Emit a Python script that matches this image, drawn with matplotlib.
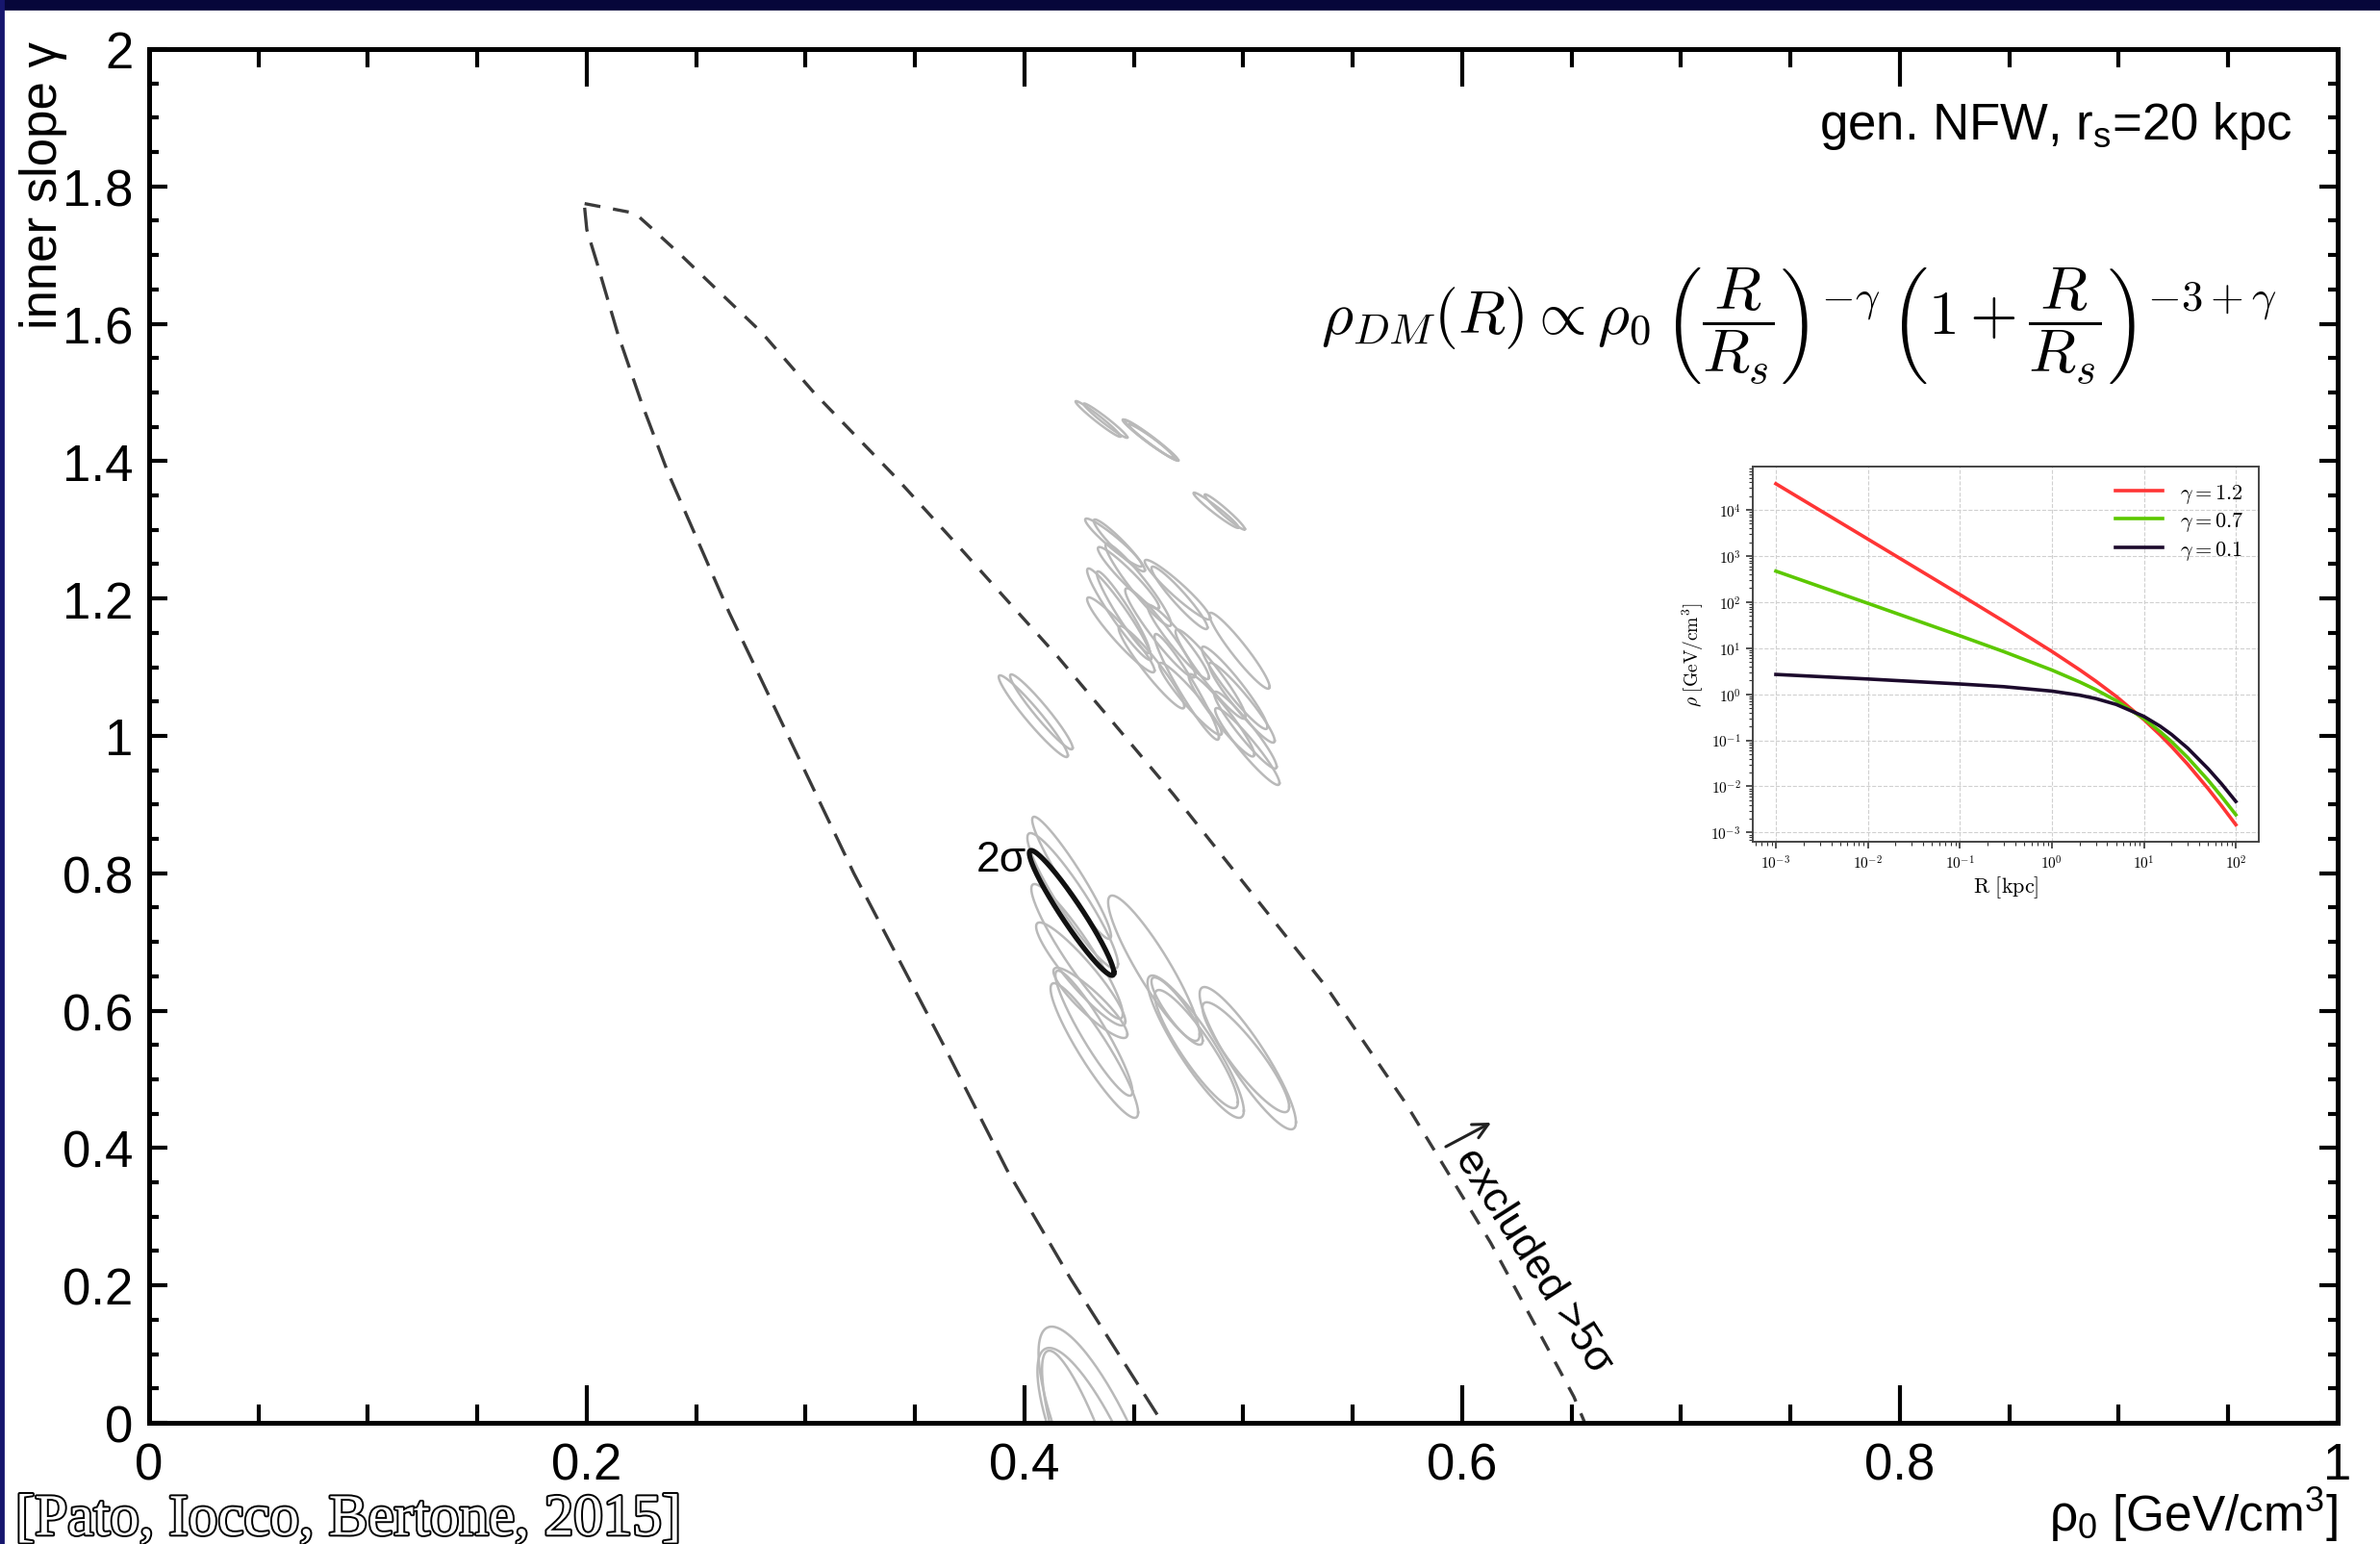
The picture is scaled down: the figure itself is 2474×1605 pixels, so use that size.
import numpy as np
import matplotlib
matplotlib.use('Agg')
import matplotlib.pyplot as plt
import matplotlib.patheffects as pe
from matplotlib.patches import Rectangle
from matplotlib.ticker import MultipleLocator, FixedLocator, FuncFormatter, LogLocator, NullFormatter

plt.rcParams['font.family'] = ['Liberation Sans', 'DejaVu Sans']
plt.rcParams['mathtext.fontset'] = 'cm'
plt.rcParams['mathtext.rm'] = 'Liberation Sans'
plt.rcParams['mathtext.it'] = 'Liberation Sans:italic'
plt.rcParams['mathtext.bf'] = 'Liberation Sans:bold'

# ---- data -------------------------------------------------------------
x_ticks = [0, 0.2, 0.4, 0.6, 0.8, 1.0]
x_labels = ['0', '0.2', '0.4', '0.6', '0.8', '1']
y_ticks = [0, 0.2, 0.4, 0.6, 0.8, 1.0, 1.2, 1.4, 1.6, 1.8, 2.0]
y_labels = ['0', '0.2', '0.4', '0.6', '0.8', '1', '1.2', '1.4', '1.6', '1.8', '2']

# >5 sigma exclusion boundary
edge_right_x = [0.199, 0.222, 0.229, 0.244, 0.260, 0.280, 0.304, 0.341, 0.371, 0.415, 0.468, 0.538, 0.574, 0.613, 0.651, 0.656]
edge_right_y = [1.775, 1.761, 1.741, 1.697, 1.648, 1.587, 1.499, 1.377, 1.272, 1.116, 0.915, 0.634, 0.466, 0.262, 0.038, 0.0]
edge_left_x = [0.199, 0.200, 0.205, 0.214, 0.225, 0.237, 0.265, 0.292, 0.322, 0.363, 0.392, 0.421, 0.463]
edge_left_y = [1.769, 1.737, 1.685, 1.587, 1.485, 1.384, 1.180, 1.000, 0.800, 0.550, 0.368, 0.210, 0.000]

# 2 sigma contours for the baryonic models: centre, half extent in x/y, correlation
ell_cx = [0.4336, 0.4370, 0.4565, 0.4589, 0.4577, 0.4875, 0.4915, 0.4040, 0.4077,
          0.4407, 0.4433, 0.4699, 0.4708, 0.4433, 0.4451, 0.4440, 0.4703, 0.4741,
          0.4982, 0.4993, 0.5018, 0.4758, 0.5009,
          0.4520, 0.4620, 0.4850, 0.4900, 0.4580, 0.4475, 0.4960,
          0.4215, 0.4220, 0.4240, 0.4301, 0.4319, 0.4317, 0.4257,
          0.4591, 0.4782, 0.4785, 0.5020, 0.5011, 0.4697,
          0.4364, 0.4329, 0.4300]
ell_cy = [1.4615, 1.4590, 1.4328, 1.4272, 1.4310, 1.3285, 1.3260, 1.0287, 1.0350,
          1.2815, 1.2773, 1.2129, 1.2010, 1.1772, 1.1800, 1.1471, 1.1366, 1.0714,
          1.1240, 1.0483, 0.9846, 1.0539, 1.0084,
          1.2200, 1.1500, 1.0900, 1.0300, 1.1000, 1.2300, 1.0700,
          0.7934, 0.7598, 0.6863, 0.6113, 0.5420, 0.5672, 0.6534,
          0.6618, 0.5476, 0.5441, 0.5308, 0.5322, 0.5994,
          -0.05, -0.06, -0.08]
ell_hx = [0.0103, 0.0100, 0.0117, 0.0114, 0.0120, 0.0103, 0.0092, 0.0158, 0.0143,
          0.0130, 0.0117, 0.0150, 0.0128, 0.0147, 0.0121, 0.0154, 0.0140, 0.0147,
          0.0138, 0.0150, 0.0147, 0.0143, 0.0143,
          0.0150, 0.0160, 0.0160, 0.0150, 0.0150, 0.0140, 0.0150,
          0.0180, 0.0207, 0.0209, 0.0169, 0.0200, 0.0176, 0.0204,
          0.0209, 0.0220, 0.0190, 0.0220, 0.0198, 0.0117,
          0.030, 0.027, 0.022]
ell_hy = [0.0260, 0.0250, 0.0280, 0.0266, 0.0290, 0.0257, 0.0257, 0.0595, 0.0546,
          0.0350, 0.0378, 0.0434, 0.0455, 0.0666, 0.0596, 0.0546, 0.0540, 0.0770,
          0.0553, 0.0581, 0.0560, 0.0525, 0.0560,
          0.0600, 0.0650, 0.0650, 0.0600, 0.0600, 0.0450, 0.0600,
          0.0889, 0.0987, 0.0980, 0.0511, 0.0980, 0.0910, 0.0750,
          0.1058, 0.1036, 0.0860, 0.1036, 0.0800, 0.0490,
          0.190, 0.169, 0.185]
ell_rho = [-0.975, -0.975, -0.975, -0.975, -0.975, -0.97, -0.97, -0.96, -0.96,
           -0.95, -0.95, -0.95, -0.95, -0.955, -0.955, -0.95, -0.95, -0.955,
           -0.95, -0.95, -0.95, -0.95, -0.95,
           -0.95, -0.95, -0.95, -0.95, -0.95, -0.95, -0.95,
           -0.95, -0.93, -0.93, -0.90, -0.92, -0.93, -0.92,
           -0.91, -0.90, -0.90, -0.90, -0.90, -0.88,
           -0.80, -0.80, -0.85]

# highlighted model
best_cx, best_cy, best_hx, best_hy, best_rho = 0.4215, 0.7423, 0.0193, 0.0910, -0.955

# inset: generalised NFW profiles
r_kpc = [0.001, 0.01, 0.1, 0.3, 1, 2, 3, 5, 10, 15, 20, 30, 50, 70, 100]
rho_g12 = [3.7e4, 2.33e3, 146, 38.3, 8.5, 3.40, 1.93, 0.90, 0.282, 0.1315, 0.0732, 0.0301, 0.0089, 3.78e-3, 1.47e-3]
rho_g07 = [470, 94, 18.6, 8.41, 3.35, 1.85, 1.26, 0.727, 0.295, 0.155, 0.0934, 0.0421, 0.0136, 6.0e-3, 2.42e-3]
rho_g01 = [2.69, 2.14, 1.67, 1.46, 1.17, 0.955, 0.806, 0.601, 0.331, 0.203, 0.134, 0.0674, 0.0241, 0.0113, 4.7e-3]


def contour(cx, cy, hx, hy, rho, n=240):
    t = np.linspace(0, 2 * np.pi, n)
    return cx + hx * np.cos(t), cy + hy * np.cos(t + np.arccos(rho))


fig = plt.figure(figsize=(12.37, 8.03), dpi=200)
fig.patches.append(Rectangle((0, 1 - 10 / 1606), 1, 10 / 1606, transform=fig.transFigure,
                             color='#06063a', zorder=-5))
fig.patches.append(Rectangle((0, 0), 3 / 2474, 1, transform=fig.transFigure,
                             color='#16166e', zorder=-5))

ax = fig.add_axes([0.06265, 0.07846, 0.91956, 0.88917])
ax.set_xlim(0, 1)
ax.set_ylim(0, 2)

for i in range(len(ell_cx)):
    ex, ey = contour(ell_cx[i], ell_cy[i], ell_hx[i], ell_hy[i], ell_rho[i])
    ax.plot(ex, ey, color='#b9b9b9', lw=0.9, zorder=2)
bx, by = contour(best_cx, best_cy, best_hx, best_hy, best_rho)
ax.plot(bx, by, color='#111111', lw=1.9, zorder=3)

ax.plot(edge_right_x, edge_right_y, color='#3a3a3a', lw=1.2, dashes=(5.0, 4.0), zorder=2)
ax.plot(edge_left_x, edge_left_y, color='#3a3a3a', lw=1.2, dashes=(7.5, 3.6), zorder=2)

ax.text(0.401, 0.82, '2σ', fontsize=16, ha='right', va='center')
ax.annotate('', xy=(0.6132, 0.437), xytext=(0.5925, 0.402),
            arrowprops=dict(arrowstyle='->', lw=1.1, color='#222222',
                            shrinkA=0, shrinkB=0, mutation_scale=14))
ax.text(0.6325, 0.237, 'excluded >5σ', fontsize=16, rotation=-57.5,
        rotation_mode='anchor', ha='center', va='center')

ax.xaxis.set_major_locator(FixedLocator(x_ticks))
ax.set_xticklabels(x_labels)
ax.yaxis.set_major_locator(FixedLocator(y_ticks))
ax.set_yticklabels(y_labels)
ax.xaxis.set_minor_locator(MultipleLocator(0.05))
ax.yaxis.set_minor_locator(MultipleLocator(0.05))
ax.tick_params(which='both', direction='in', top=True, right=True, width=1.5, labelsize=19)
ax.tick_params(axis='x', which='major', length=14, pad=7)
ax.tick_params(axis='x', which='minor', length=7)
ax.tick_params(axis='y', which='major', length=7, pad=6)
ax.tick_params(axis='y', which='minor', length=3.5)
for s in ax.spines.values():
    s.set_linewidth(1.8)

fig.text(0.018, 0.973, 'inner slope γ', rotation=90, ha='center', va='top', fontsize=19)
fig.text(0.982, 0.009, r'ρ$_0$ [GeV/cm$^3$]', ha='right', va='baseline', fontsize=18.5,
         math_fontfamily='custom')
fig.text(0.963, 0.9096, r'gen. NFW, r$_\mathrm{s}$=20 kpc', ha='right', va='baseline',
         fontsize=19, math_fontfamily='custom')
fig.text(0.7557, 0.789,
         r'$\rho_{DM}(R) \propto \rho_0 \,\left(\dfrac{R}{R_s}\right)^{-\gamma}\,'
         r'\left(1+\dfrac{R}{R_s}\right)^{-3+\gamma}$',
         ha='center', va='center', fontsize=23)
fig.text(0.0064, 0.006, '[Pato, Iocco, Bertone, 2015]', family='Liberation Serif',
         fontsize=22, color='white', ha='left', va='baseline',
         path_effects=[pe.withStroke(linewidth=1.4, foreground='black')])

# inset with the profile shapes
ins = fig.add_axes([0.7365, 0.4545, 0.2126, 0.2428])
ins.set_xscale('log')
ins.set_yscale('log')
ins.plot(r_kpc, rho_g12, color='#ff3535', lw=1.3, label=r'$\gamma = 1.2$')
ins.plot(r_kpc, rho_g07, color='#5cc800', lw=1.3, label=r'$\gamma = 0.7$')
ins.plot(r_kpc, rho_g01, color='#1c0a2c', lw=1.3, label=r'$\gamma = 0.1$')
ins.xaxis.set_major_locator(FixedLocator([1e-3, 1e-2, 1e-1, 1, 10, 100]))
ins.yaxis.set_major_locator(FixedLocator([1e-3, 1e-2, 1e-1, 1, 10, 100, 1e3, 1e4]))
ins.xaxis.set_minor_locator(LogLocator(base=10, subs=np.arange(2, 10), numticks=20))
ins.yaxis.set_minor_locator(LogLocator(base=10, subs=np.arange(2, 10), numticks=20))
ins.xaxis.set_minor_formatter(NullFormatter())
ins.yaxis.set_minor_formatter(NullFormatter())
dec_fmt = FuncFormatter(lambda v, p: r'$10^{%d}$' % int(round(np.log10(v))))
ins.xaxis.set_major_formatter(dec_fmt)
ins.yaxis.set_major_formatter(dec_fmt)
ins.tick_params(which='major', length=2.5, width=0.6, labelsize=5.5, pad=2, color='#333333')
ins.tick_params(which='minor', length=1.3, width=0.4, color='#333333')
ins.grid(True, which='major', ls='--', lw=0.4, color='#d0d0d0')
for s in ins.spines.values():
    s.set_linewidth(0.7)
    s.set_color('#444444')
ins.set_xlabel(r'$\mathrm{R\ [kpc]}$', fontsize=8, labelpad=1)
ins.set_ylabel(r'$\rho\ [\mathrm{GeV/cm^3}]$', fontsize=7, labelpad=2)
ins.legend(loc='upper right', frameon=False, fontsize=8, handlelength=2.2,
           borderaxespad=0.3, labelspacing=0.25)

fig.savefig('out.png', dpi=200)
